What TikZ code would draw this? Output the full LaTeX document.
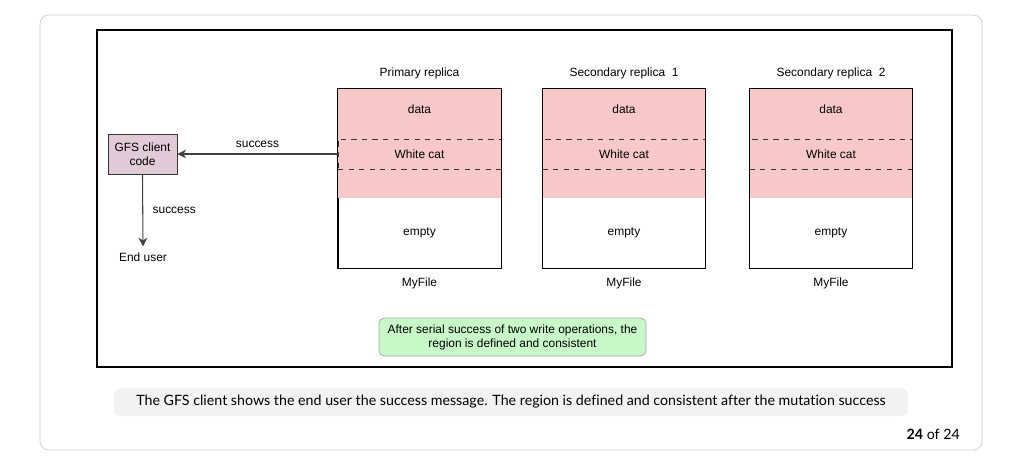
\documentclass[tikz,border=0pt]{standalone}
\usepackage{fontspec}
\setmainfont{Liberation Sans}
\newfontfamily\capfont[Ligatures=NoCommon]{Lato}
\usetikzlibrary{arrows.meta, positioning, calc}

\definecolor{datapink}{HTML}{F8C8C8}
\definecolor{clientfill}{HTML}{E3CAD8}
\definecolor{notefill}{HTML}{C8F8C8}
\definecolor{captionbg}{HTML}{F2F2F2}

\tikzset{
  replica/.style={draw=black, thin, minimum width=3.26cm, minimum height=3.58cm, inner sep=0pt},
  catband/.style={draw=black!80, dashed, minimum width=3.26cm, minimum height=0.6cm, inner sep=0pt},
  client/.style={draw=black!80, fill=clientfill, align=center, minimum width=1.38cm, minimum height=0.8cm, inner sep=1pt},
  arr/.style={-{Stealth[length=5pt,width=5pt]}, draw=black!75, semithick},
  lbl/.style={font=\fontsize{6.8}{8}\selectfont},
  note/.style={draw=black!35, fill=notefill, rounded corners=3pt, align=center, minimum width=5.34cm, minimum height=0.76cm}
}

\begin{document}
\begin{tikzpicture}[x=0.02cm, y=-0.02cm, every node/.style={lbl}]
\useasboundingbox (0,0) rectangle (1027,467);
% card and frame
\draw[black!20, rounded corners=5pt] (40,15) rectangle (982,450);
\draw[black, semithick] (97,30) rectangle (952,367);

% the three replicas
\foreach \name/\cx/\title in {prim/419.5/Primary replica, secA/624/Secondary replica\ \ 1, secB/831/Secondary replica\ \ 2}{
  \node[replica] (\name) at (\cx,178.5) {};
  \fill[datapink] (\name.north west) rectangle ($(\name.north east)+(0,109)$);
  \node[catband] (\name cat) at (\cx,154) {White cat};
  \draw[black, thin] (\name.north west) rectangle (\name.south east);
  \node at (\cx,109) {data};
  \node at (\cx,233) {empty};
  \node[above=2pt of \name.north] {\title};
  \node[below=2pt of \name.south] {MyFile};
}

% client side
\node[client] (gfs) at (142.5,154) {GFS client\\code};
\node (user) at (143,257) {End user};
\draw[arr] (primcat.west) -- (gfs.east) node[midway, above] {success};
\draw[arr] (gfs.south) -- (user.north) node[midway, right=2pt] {success};

% note
\node[note] (result) at (512.5,337) {After serial success of two write operations, the\\region is defined and consistent};

% caption
\node[fill=captionbg, rounded corners=3pt, minimum width=15.88cm, minimum height=0.56cm, font=\capfont\fontsize{8.1}{10}\selectfont] (caption) at (511,402) {The GFS client shows the end user the success message. The region is defined and consistent after the mutation success};
\node[anchor=east, font=\capfont\fontsize{8.1}{10}\selectfont] (pages) at (966,434) {\textbf{24} of 24};
\end{tikzpicture}
\end{document}
